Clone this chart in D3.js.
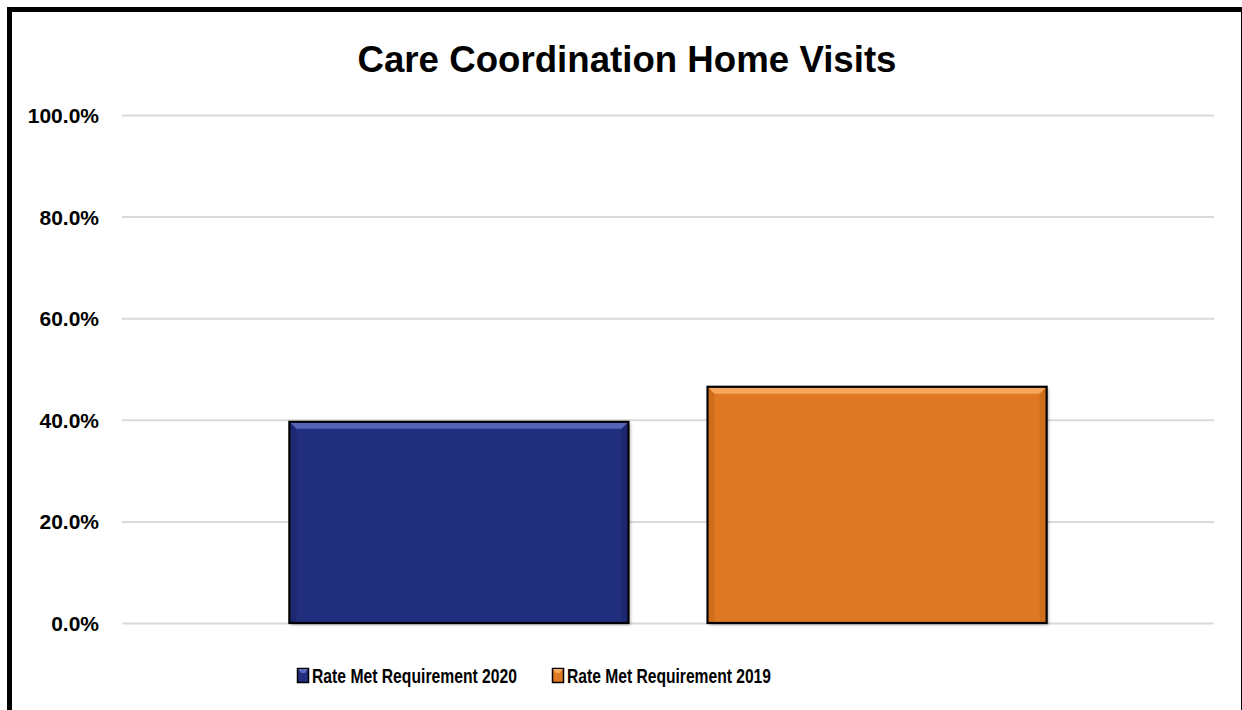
<!DOCTYPE html>
<html>
<head>
<meta charset="utf-8">
<script src="https://cdn.jsdelivr.net/npm/d3@7"></script>
<style>
  html, body { margin: 0; padding: 0; background: #fff; }
  svg { display: block; }
  text { font-family: "Liberation Sans", Arial, sans-serif; font-weight: bold; fill: #000; }
</style>
</head>
<body>
<svg id="chart" width="1242" height="710"></svg>
<script>
// Chart data
const title = "Care Coordination Home Visits";
const categories = ["Care Coordination Home Visits"];
const seriesNames = ["Rate Met Requirement 2020", "Rate Met Requirement 2019"];
const seriesValues = [0.396, 0.465];
const yTicks = [0, 0.2, 0.4, 0.6, 0.8, 1.0];

const fills = ["#232d7e", "#de7822"];
const bevelLight = ["#5a67ba", "#f8aa60"];
const bevelDark = ["#161d5a", "#b55c14"];

const svg = d3.select("#chart");
const plot = { left: 122, right: 1214, top: 115, bottom: 623 };

// Outer frame
svg.append("rect")
  .attr("x", 9.5).attr("y", 9.5)
  .attr("width", 1234).attr("height", 730)
  .attr("fill", "#fff").attr("stroke", "#000").attr("stroke-width", 5);

// Soft shadow under the bars
const defs = svg.append("defs");
const shadow = defs.append("filter").attr("id", "shadow")
  .attr("x", "-5%").attr("y", "-5%").attr("width", "115%").attr("height", "115%");
shadow.append("feDropShadow")
  .attr("dx", 2).attr("dy", 2).attr("stdDeviation", 1.5)
  .attr("flood-color", "#000").attr("flood-opacity", 0.3);

// Scales
const y = d3.scaleLinear().domain([0, 1]).range([plot.bottom, plot.top]);
const x0 = d3.scaleBand().domain(categories)
  .range([plot.left, plot.right]).paddingInner(0).paddingOuter(0.221);
const x1 = d3.scaleBand().domain(seriesNames)
  .range([0, x0.bandwidth()]).paddingInner(0.189).paddingOuter(0);

// Gridlines and y-axis labels
const yAxis = d3.axisLeft(y)
  .tickValues(yTicks)
  .tickFormat(d3.format(".1%"))
  .tickSize(-(plot.right - plot.left))
  .tickPadding(23);

const gAxis = svg.append("g")
  .attr("transform", `translate(${plot.left},0)`)
  .call(yAxis);
gAxis.select(".domain").remove();
gAxis.selectAll(".tick line")
  .attr("stroke", "#d9d9d9").attr("stroke-width", 2);
gAxis.selectAll(".tick text")
  .attr("font-size", 21)
  .attr("dy", "0.36em")
  .attr("fill", "#000");

// Title
svg.append("text")
  .attr("x", 627).attr("y", 72)
  .attr("text-anchor", "middle")
  .attr("font-size", 36)
  .attr("textLength", 539)
  .attr("lengthAdjust", "spacingAndGlyphs")
  .text(title);

// Bars with bevelled top edge
const groups = svg.append("g").selectAll("g")
  .data(categories).join("g")
  .attr("transform", d => `translate(${x0(d)},0)`);

seriesNames.forEach((name, i) => {
  const v = seriesValues[i];
  const bx = x1(name), bw = x1.bandwidth();
  const by = y(v), bh = y(0) - y(v);
  const g = groups.append("g");
  g.append("rect")
    .attr("x", bx).attr("y", by).attr("width", bw).attr("height", bh)
    .attr("fill", fills[i])
    .attr("filter", "url(#shadow)");
  const b = 7;
  // top bevel
  g.append("path")
    .attr("d", `M${bx},${by} L${bx + bw},${by} L${bx + bw - b},${by + b} L${bx + b},${by + b} Z`)
    .attr("fill", bevelLight[i]).attr("opacity", 0.95);
  // side bevels
  g.append("path")
    .attr("d", `M${bx},${by} L${bx + b},${by + b} L${bx + b},${by + bh - 2} L${bx},${by + bh} Z`)
    .attr("fill", bevelDark[i]).attr("opacity", 0.35);
  g.append("path")
    .attr("d", `M${bx + bw},${by} L${bx + bw - b},${by + b} L${bx + bw - b},${by + bh - 2} L${bx + bw},${by + bh} Z`)
    .attr("fill", bevelDark[i]).attr("opacity", 0.35);
  g.append("rect")
    .attr("x", bx).attr("y", by).attr("width", bw).attr("height", bh)
    .attr("fill", "none").attr("stroke", "#000").attr("stroke-width", 2.2);
});

// Legend
const legendX = [297, 552];
const legendTextLen = [205, 204];
const legend = svg.append("g");
seriesNames.forEach((name, i) => {
  const lx = legendX[i];
  legend.append("rect")
    .attr("x", lx + 0.5).attr("y", 668.5).attr("width", 11).attr("height", 14)
    .attr("fill", fills[i]).attr("stroke", "#000").attr("stroke-width", 1.5);
  legend.append("path")
    .attr("d", `M${lx + 1},${669} L${lx + 11},${669} L${lx + 8},${673} L${lx + 4},${673} Z`)
    .attr("fill", bevelLight[i]);
  legend.append("text")
    .attr("x", lx + 15).attr("y", 683)
    .attr("font-size", 21)
    .attr("textLength", legendTextLen[i])
    .attr("lengthAdjust", "spacingAndGlyphs")
    .text(name);
});
</script>
</body>
</html>
